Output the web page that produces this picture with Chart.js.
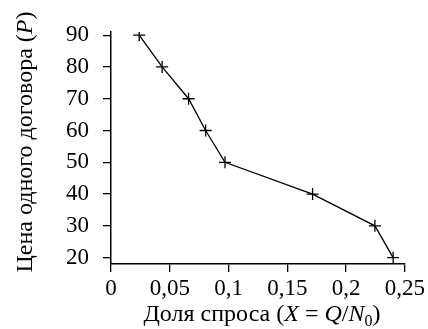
<!DOCTYPE html>
<html>
<head>
<meta charset="utf-8">
<script src="https://cdn.jsdelivr.net/npm/chart.js@4.4.1/dist/chart.umd.min.js"></script>
<style>
    html, body { margin: 0; padding: 0; background: #fff; }
</style>
</head>
<body>
<canvas id="demandChart" width="428" height="329"></canvas>
<script>
// --- data ---
const shareX = [0.024, 0.0435, 0.066, 0.0805, 0.097, 0.1715, 0.2245, 0.240];
const priceP = [90, 80, 70, 60, 50, 40, 30, 20];
const xTicks = [0, 0.05, 0.1, 0.15, 0.2, 0.25];
const yTicks = [20, 30, 40, 50, 60, 70, 80, 90];

const FONT = "'Liberation Serif', 'Times New Roman', serif";
const TICK_FS = 23;
const TITLE_FS = 24;

// title pieces: t = text, it = italic, sub = subscript
const xTitle = [
    { t: 'Доля спроса (' }, { t: 'X', it: true }, { t: ' = ' },
    { t: 'Q', it: true }, { t: '/' }, { t: 'N', it: true },
    { t: '0', sub: true }, { t: ')' }
];
const yTitle = [
    { t: 'Цена одного договора (' }, { t: 'P', it: true }, { t: ')' }
];

const runFont = (r) => (r.it ? 'italic ' : '') + (r.sub ? 16 : TITLE_FS) + 'px ' + FONT;

// draws a row of text pieces centred on x
const drawRuns = (ctx, runs, x, y) => {
    let total = 0;
    runs.forEach(r => { ctx.font = runFont(r); total += ctx.measureText(r.t).width; });
    let cx = x - total / 2;
    runs.forEach(r => {
        ctx.font = runFont(r);
        ctx.fillText(r.t, cx, r.sub ? y + 5 : y);
        cx += ctx.measureText(r.t).width;
    });
};

const titlesPlugin = {
    id: 'titles',
    afterDraw(chart) {
        const ctx = chart.ctx;
        const a = chart.chartArea;
        ctx.save();
        ctx.fillStyle = '#000';
        ctx.textBaseline = 'alphabetic';
        ctx.textAlign = 'left';
        drawRuns(ctx, xTitle, (a.left + a.right) / 2 + 4, 321);
        ctx.translate(31.5, 142);
        ctx.rotate(-Math.PI / 2);
        drawRuns(ctx, yTitle, 0, 0);
        ctx.restore();
    }
};

const axisCommon = {
    type: 'linear',
    grid: { drawOnChartArea: false, drawTicks: true, tickLength: 8, color: '#000', lineWidth: 1.3 },
    border: { display: true, color: '#000', width: 1.5 }
};

new Chart(document.getElementById('demandChart').getContext('2d'), {
    type: 'scatter',
    data: {
        datasets: [{
            data: shareX.map((x, i) => ({ x: x, y: priceP[i] })),
            showLine: true,
            borderColor: '#000',
            borderWidth: 1.3,
            pointStyle: 'cross',
            pointRadius: 6,
            pointBorderColor: '#000',
            pointBorderWidth: 1.3
        }]
    },
    options: {
        responsive: false,
        animation: false,
        devicePixelRatio: 1,
        layout: { padding: { top: 32, right: 22, left: 0, bottom: 0 } },
        plugins: { legend: { display: false }, tooltip: { enabled: false } },
        scales: {
            x: {
                ...axisCommon,
                min: 0, max: 0.25,
                afterBuildTicks: (s) => { s.ticks = xTicks.map(v => ({ value: v })); },
                afterFit: (s) => { s.height = 65; },
                ticks: {
                    color: '#000', font: { family: FONT, size: TICK_FS }, padding: 3,
                    maxRotation: 0, autoSkip: false,
                    callback: (v) => String(v).replace('.', ',')
                }
            },
            y: {
                ...axisCommon,
                min: 18, max: 91,
                afterBuildTicks: (s) => { s.ticks = yTicks.map(v => ({ value: v })); },
                afterFit: (s) => { s.width = 111; },
                ticks: {
                    color: '#000', font: { family: FONT, size: TICK_FS }, padding: 14,
                    autoSkip: false
                }
            }
        }
    },
    plugins: [titlesPlugin]
});
</script>
</body>
</html>
